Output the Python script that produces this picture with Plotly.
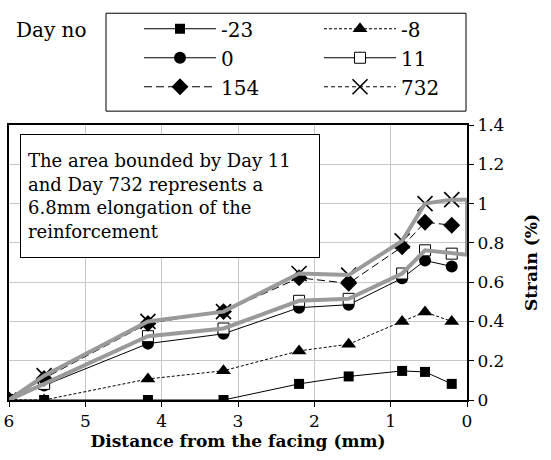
import plotly.graph_objects as go

# ---- data ----
distance = [6.0, 5.54, 4.18, 3.19, 2.2, 1.55, 0.85, 0.55, 0.2]
day_m23 = [0.0, 0.0, 0.0, 0.0, 0.082, 0.12, 0.148, 0.143, 0.082]
day_m8 = [0.0, 0.0, 0.107, 0.149, 0.25, 0.284, 0.40, 0.448, 0.40]
day_0 = [0.0, 0.074, 0.287, 0.337, 0.47, 0.485, 0.62, 0.71, 0.68]
day_11 = [0.0, 0.082, 0.325, 0.364, 0.505, 0.515, 0.644, 0.762, 0.745]
day_154 = [0.0, 0.11, 0.39, 0.45, 0.622, 0.594, 0.78, 0.905, 0.89]
day_732 = [0.0, 0.124, 0.40, 0.45, 0.644, 0.636, 0.81, 1.0, 1.02]

# area boundary (Day 11 and Day 732 closed at the facing)
face_x = 0.0
face_low = 0.74
face_high = 1.02

x_ticks = [6, 5, 4, 3, 2, 1, 0]
y_ticks = [0, 0.2, 0.4, 0.6, 0.8, 1.0, 1.2, 1.4]
y_tick_text = ["0", "0.2", "0.4", "0.6", "0.8", "1", "1.2", "1.4"]

FONT = "DejaVu Serif"

fig = go.Figure()

series = [
    ("-23", day_m23, "solid", dict(symbol="square", size=10, color="black")),
    ("-8", day_m8, "3px,2px", dict(symbol="triangle-up", size=13, color="black")),
    ("0", day_0, "solid", dict(symbol="circle", size=12, color="black")),
    ("11", day_11, "solid", dict(symbol="square", size=11, color="white",
                                 line=dict(color="black", width=1))),
    ("154", day_154, "8px,4px", dict(symbol="diamond", size=13, color="black")),
    ("732", day_732, "4px,3px", dict(symbol="x-thin", size=15, color="black",
                                     line=dict(color="black", width=1.6))),
]

for name, vals, dash, mk in series:
    fig.add_trace(go.Scatter(
        x=distance, y=vals, name=name, mode="lines+markers",
        line=dict(color="black", width=1, dash=dash),
        marker=mk,
    ))

# grey boundary of the area
area_x = distance + [face_x, face_x] + distance[::-1]
area_y = day_11 + [face_low, face_high] + day_732[::-1]
fig.add_trace(go.Scatter(
    x=area_x, y=area_y, mode="lines", showlegend=False,
    line=dict(color="#9a9a9a", width=4), hoverinfo="skip",
))

W, H = 551, 460
L, T = 9, 122
R = W - 467
B = H - 400
pw = W - L - R
ph = H - T - B


def px_x(p):
    return (p - L) / pw


def px_y(p):
    return (H - B - p) / ph


def tfont(size, bold=False):
    return dict(family=FONT, size=size, color="black",
                weight="bold" if bold else "normal")


fig.update_layout(
    width=W, height=H,
    margin=dict(l=L, r=R, t=T, b=B, pad=0),
    paper_bgcolor="white", plot_bgcolor="white",
    font=tfont(17),
    showlegend=True,
    legend=dict(
        orientation="h",
        x=px_x(139), xanchor="left",
        y=px_y(5), yanchor="top",
        borderwidth=0,
        bgcolor="rgba(0,0,0,0)",
        entrywidth=93,
        itemwidth=72,
        font=tfont(20),
        traceorder="normal",
    ),
    shapes=[
        dict(type="rect", xref="paper", yref="paper",
             x0=px_x(106), x1=px_x(466), y0=px_y(108), y1=px_y(9),
             line=dict(color="black", width=1), fillcolor="rgba(0,0,0,0)",
             layer="above"),
    ],
    xaxis=dict(
        range=[6, 0], tickvals=x_ticks, ticktext=[str(v) for v in x_ticks],
        showgrid=True, gridcolor="#c8c8c8", gridwidth=1,
        showline=True, linecolor="black", linewidth=2, mirror=True,
        ticks="outside", ticklen=5, tickcolor="black", tickwidth=1,
        zeroline=False,
        tickfont=tfont(17),
        title=dict(text="Distance from the facing (mm)",
                   font=tfont(17, True), standoff=4),
        automargin=False,
    ),
    yaxis=dict(
        range=[0, 1.4], tickvals=y_ticks, ticktext=y_tick_text,
        side="right",
        showgrid=True, gridcolor="#c8c8c8", gridwidth=1,
        showline=True, linecolor="black", linewidth=2, mirror=True,
        ticks="outside", ticklen=5, tickcolor="black", tickwidth=1,
        zeroline=False,
        tickfont=tfont(17),
        title=dict(text="Strain (%)",
                   font=tfont(17, True), standoff=22),
        automargin=False,
    ),
    annotations=[
        dict(
            text="The area bounded by Day 11<br>and Day 732 represents a<br>"
                 "6.8mm elongation of the<br>reinforcement",
            xref="paper", yref="paper",
            x=px_x(20), xanchor="left",
            y=px_y(131), yanchor="top",
            showarrow=False, align="left", valign="middle",
            width=284, height=108, borderpad=7,
            bordercolor="black", borderwidth=1, bgcolor="white",
            font=tfont(18),
        ),
        dict(
            text="Day no",
            xref="paper", yref="paper",
            x=px_x(14), xanchor="left",
            y=px_y(26), yanchor="middle",
            showarrow=False,
            font=tfont(20),
        ),
    ],
)

fig.write_html(
    "out.html",
    config={"displayModeBar": False},
    post_script="document.body.style.margin='0';document.body.style.padding='0';",
)
